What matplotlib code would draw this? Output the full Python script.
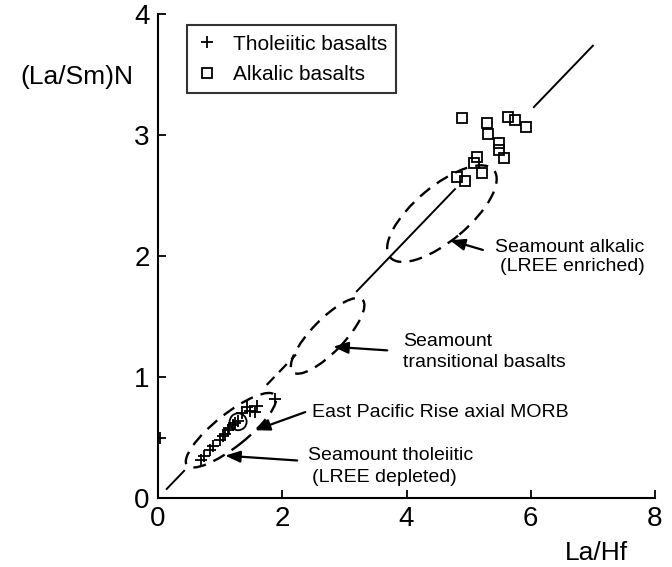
import numpy as np
import matplotlib.pyplot as plt
from matplotlib.patches import Ellipse
from matplotlib.lines import Line2D
import matplotlib.transforms as mtransforms

plt.rcParams['font.family'] = ['Liberation Sans', 'DejaVu Sans']

# Tholeiitic basalts (+)
thol_x = [0.03, 0.70, 0.74, 0.84, 0.88, 1.00, 1.05, 1.08, 1.12, 1.15, 1.20, 1.24,
          1.28, 1.35, 1.43, 1.48, 1.56, 1.60, 1.88]
thol_y = [0.50, 0.31, 0.35, 0.40, 0.43, 0.48, 0.51, 0.53, 0.56, 0.58, 0.60, 0.62,
          0.64, 0.70, 0.75, 0.72, 0.71, 0.76, 0.82]

# Alkalic basalts (squares)
alk_x = [4.82, 4.90, 4.94, 5.09, 5.14, 5.22, 5.30, 5.31, 5.49, 5.49, 5.57,
         5.64, 5.75, 5.93]
alk_y = [2.65, 3.14, 2.62, 2.77, 2.82, 2.69, 3.10, 3.01, 2.93, 2.88, 2.81,
         3.15, 3.12, 3.07]

# regression line y = a*x, drawn in pieces between the fields
slope = 0.534
solid_pieces = [(0.14, 0.42), (3.20, 4.78), (6.05, 7.00)]
dashed_pieces = [(1.75, 2.22)]

# field outlines: centre x, centre y, length, width (y units), angle
fields = {
    'tholeiitic': (1.175, 0.56, 0.93, 0.27, 38.5),
    'transitional': (2.73, 1.34, 0.83, 0.27, 46.0),
    'alkalic': (4.57, 2.35, 1.12, 0.45, 40.0),
}
epr_circle = (1.29, 0.63, 0.14)

fig = plt.figure(figsize=(6.72, 5.67), dpi=100)
ax = fig.add_axes([158 / 672, 1 - 498 / 567, 497 / 672, 484 / 567])
ax.set_xlim(0, 8)
ax.set_ylim(0, 4)

# pixels per unit on each axis; outlines are drawn in y units, stretched in x
px_x = 497 / 8
px_y = 484 / 4
kx = px_y / px_x

for x0, x1 in solid_pieces:
    ax.plot([x0, x1], [slope * x0, slope * x1], color='black', lw=1.4)
for x0, x1 in dashed_pieces:
    ax.plot([x0, x1], [slope * x0, slope * x1], color='black', lw=1.6,
            dashes=(5, 3))

for name, (cx, cy, w, h, ang) in fields.items():
    tr = mtransforms.Affine2D().scale(kx, 1).translate(cx, cy) + ax.transData
    e = Ellipse((0, 0), w, h, angle=ang, fill=False, ec='black', lw=1.7,
                ls=(0, (5.5, 3.5)), transform=tr)
    ax.add_patch(e)

cx, cy, d = epr_circle
tr = mtransforms.Affine2D().scale(kx, 1).translate(cx, cy) + ax.transData
ax.add_patch(Ellipse((0, 0), d, d, fill=False, ec='black', lw=1.3, transform=tr))

ax.plot(thol_x, thol_y, ls='none', marker='+', ms=8, mew=1.3, color='black')
ax.plot(alk_x, alk_y, ls='none', marker='s', ms=7, mew=1.3, mfc='none',
        mec='black')

arrow_kw = dict(arrowstyle='-|>,head_length=0.9,head_width=0.35', color='black',
                lw=1.6, shrinkA=0, shrinkB=0)
ax.annotate('', xy=(4.70, 2.13), xytext=(5.23, 2.05), arrowprops=arrow_kw)
ax.annotate('', xy=(2.82, 1.25), xytext=(3.69, 1.22), arrowprops=arrow_kw)
ax.annotate('', xy=(1.56, 0.56), xytext=(2.37, 0.71), arrowprops=arrow_kw)
ax.annotate('', xy=(1.08, 0.35), xytext=(2.24, 0.31), arrowprops=arrow_kw)

fs = 14
ax.text(5.43, 2.07, 'Seamount alkalic', fontsize=fs, va='center')
ax.text(5.51, 1.91, '(LREE enriched)', fontsize=fs, va='center')
ax.text(3.95, 1.29, 'Seamount', fontsize=fs, va='center')
ax.text(3.95, 1.12, 'transitional basalts', fontsize=fs, va='center')
ax.text(2.48, 0.71, 'East Pacific Rise axial MORB', fontsize=fs, va='center')
ax.text(2.42, 0.355, 'Seamount tholeiitic', fontsize=fs, va='center')
ax.text(2.48, 0.17, '(LREE depleted)', fontsize=fs, va='center')

handles = [
    Line2D([], [], ls='none', marker='+', ms=8, mew=1.3, color='black'),
    Line2D([], [], ls='none', marker='s', ms=7, mew=1.3, mfc='none', mec='black'),
]
leg = ax.legend(handles, ['Tholeiitic basalts', 'Alkalic basalts'],
                loc='upper left', bbox_to_anchor=(0.058, 0.977),
                borderaxespad=0, fontsize=15, frameon=True, fancybox=False,
                handlelength=1.0, handletextpad=0.75, labelspacing=0.55,
                borderpad=0.45)
leg.get_frame().set_edgecolor('black')
leg.get_frame().set_linewidth(1.5)

for side in ['top', 'right']:
    ax.spines[side].set_visible(False)
for side in ['left', 'bottom']:
    ax.spines[side].set_linewidth(1.5)

ax.set_xticks([0, 2, 4, 6, 8])
ax.set_yticks([0, 1, 2, 3, 4])
ax.tick_params(direction='in', length=6, width=1.3, labelsize=20, pad=6)

ax.set_xlabel('La/Hf', fontsize=19, va='center')
ax.xaxis.set_label_coords(0.883, -0.114)
ax.set_ylabel('(La/Sm)N', fontsize=19, rotation=0, ha='center', va='center')
ax.yaxis.set_label_coords(-0.163, 0.87)

fig.savefig('out.png', dpi=100)
